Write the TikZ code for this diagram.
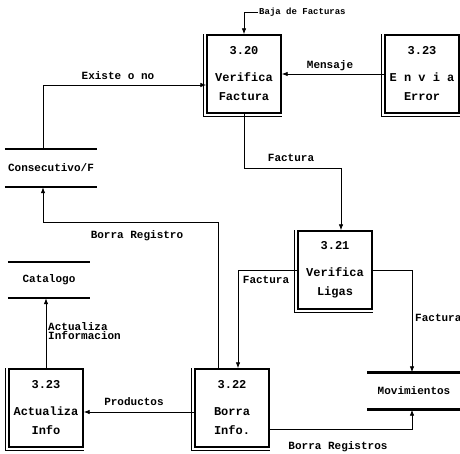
\documentclass[tikz,border=0pt]{standalone}
\usepackage{fontspec}
\setmonofont{Liberation Mono}
\usetikzlibrary{arrows.meta}

\tikzset{
  proc/.style={draw, line width=1.4pt, minimum width=74pt, minimum height=78pt,
    inner sep=0pt, align=center, font=\ttfamily\bfseries\fontsize{12}{19}\selectfont},
  store/.style={minimum width=92pt, minimum height=38pt, inner sep=0pt,
    font=\ttfamily\bfseries\fontsize{11}{13}\selectfont},
  flow/.style={line width=0.8pt, -{Latex[length=6pt,width=4.5pt]}},
  lbl/.style={inner sep=1pt, font=\ttfamily\bfseries\fontsize{11}{13}\selectfont},
}

\begin{document}
\begin{tikzpicture}[x=1pt,y=-1pt]
\useasboundingbox (0,0) rectangle (460,454);

% Processes
\node[proc] (vf) at (244,74) {3.20\\[8pt]Verifica\\Factura};
\node[proc] (err) at (422,74) {3.23\\[8pt]E n v i a\\Error};
\node[proc] (vl) at (335,270) {3.21\\[8pt]Verifica\\Ligas};
\node[proc] (bi) at (232,408) {3.22\\[8pt]Borra\\Info.};
\node[proc] (ai) at (46,408) {3.23\\[8pt]Actualiza\\Info};

% double edge left and bottom
\foreach \b in {vf,err,vl,bi,ai}
  \draw[line width=0.9pt] ([xshift=-3pt]\b.north west) |- ([yshift=-3pt]\b.south east);

% Data stores
\node[store] (cons) at (51,168) {Consecutivo/F};
\node[store, minimum width=82pt, minimum height=36pt] (cat) at (49,280) {Catalogo};
\node[store, minimum width=93pt, minimum height=37pt] (mov) at (414,391) {Movimientos};

\foreach \s in {cons,cat,mov} {
  \draw[line width=2.5pt] (\s.north west) -- (\s.north east);
  \draw[line width=2.5pt] (\s.south west) -- (\s.south east);
}

% Flows
\node[lbl, font=\ttfamily\bfseries\fontsize{9}{11}\selectfont, anchor=west] (baja) at (258,12) {Baja de Facturas};
\draw[flow] (baja.west) -| (vf.north);

\draw[flow] ([xshift=-8pt]cons.north) |- ([yshift=-11pt]vf.west);
\node[lbl] at (118,76) {Existe o no};

\draw[flow] (err.west) -- (vf.east);
\node[lbl] at (330,66) {Mensaje};

\draw[flow] (vf.south) -- ++(0,55) -| ([xshift=6pt]vl.north);
\node[lbl] at (291,158) {Factura};

\draw[flow] (vl.west) -| ([xshift=6pt]bi.north);
\node[lbl] at (266,280) {Factura};

\draw[flow] (vl.east) -| ([xshift=-2pt]mov.north);
\node[lbl, anchor=west] at (414,318) {Factura};

\draw[flow] ([xshift=-14pt]bi.north) -- ++(0,-146) -| ([xshift=-8pt]cons.south);
\node[lbl] at (137,236) {Borra Registro};

\draw[flow] ([yshift=-21pt]bi.east) -| ([xshift=-2pt]mov.south);
\node[lbl] at (338,447) {Borra Registros};

\draw[flow] ([yshift=-4pt]bi.west) -- ([yshift=-4pt]ai.east);
\node[lbl] at (134,402) {Productos};

\draw[flow] (ai.north) -- (ai.north |- cat.south);
\node[lbl, align=left, anchor=west, font=\ttfamily\bfseries\fontsize{11}{9.5}\selectfont] at (47,331) {Actualiza\\Informacion};

\end{tikzpicture}
\end{document}
